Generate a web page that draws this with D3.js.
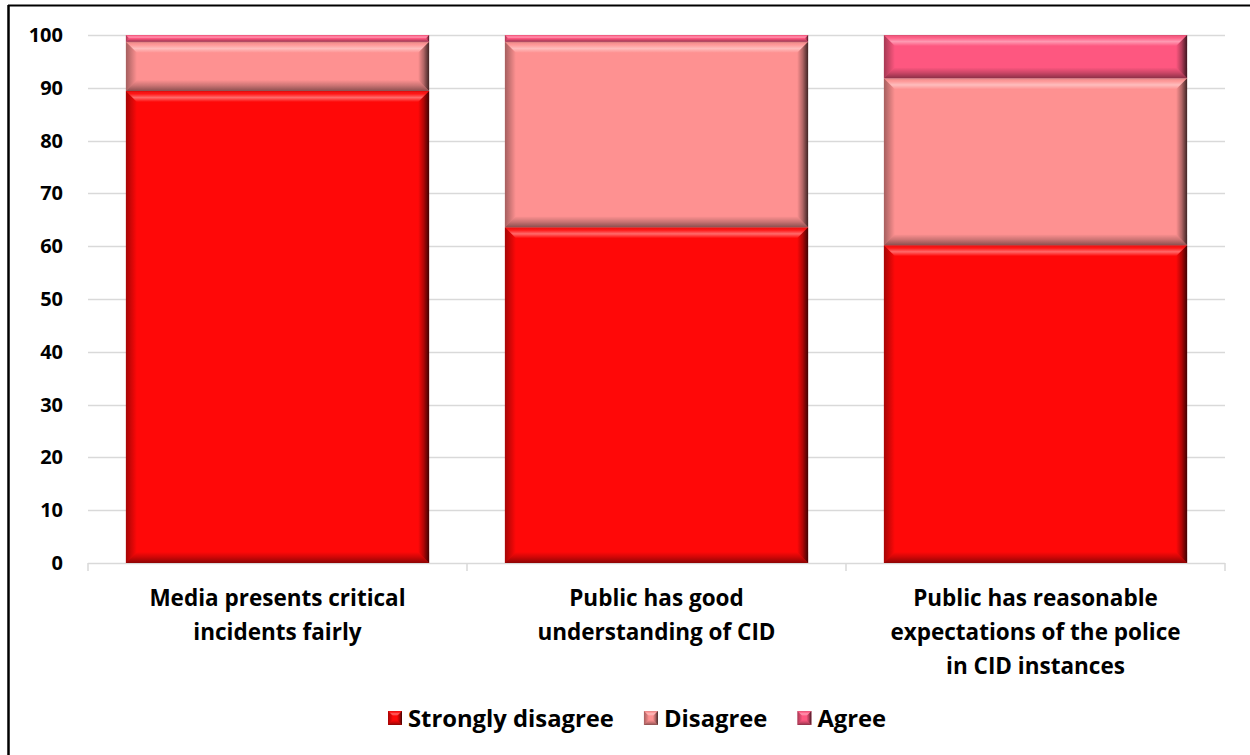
<!DOCTYPE html>
<html>
<head>
<meta charset="utf-8">
<script src="https://cdn.jsdelivr.net/npm/d3@7"></script>
<style>
  body { margin: 0; background: #fff; }
  svg { display: block; }
  text { font-family: "Open Sans", Lato, sans-serif; font-weight: bold; fill: #000; }
</style>
</head>
<body>
<div id="chart"></div>
<script>
// categories (each label split into lines)
const categories = [
  ['Media presents critical', 'incidents fairly'],
  ['Public has good', 'understanding of CID'],
  ['Public has reasonable', 'expectations of the police', 'in CID instances']
];
const seriesNames = ['Strongly disagree', 'Disagree', 'Agree'];
const seriesColors = ['#ff0808', '#fe9191', '#fe5780'];
const stronglyDisagree = [89.4, 63.6, 60.2];
const disagree = [9.3, 35.1, 31.6];
const agree = [1.3, 1.3, 8.2];
const yTicks = [0, 10, 20, 30, 40, 50, 60, 70, 80, 90, 100];

const W = 1250, H = 755;
const margin = { left: 88, right: 25, top: 35, bottom: 192 };

const svg = d3.select('#chart').append('svg')
  .attr('width', W).attr('height', H);

// chart frame (top and left edges visible)
svg.append('line').attr('x1', 8).attr('x2', W).attr('y1', 5.5).attr('y2', 5.5)
  .attr('stroke', '#000').attr('stroke-width', 2);
svg.append('line').attr('x1', 8.5).attr('x2', 8.5).attr('y1', 5).attr('y2', H)
  .attr('stroke', '#000').attr('stroke-width', 2.5);

const x = d3.scaleBand()
  .domain(d3.range(categories.length))
  .range([margin.left, W - margin.right])
  .paddingInner(0.2).paddingOuter(0.1);

const y = d3.scaleLinear().domain([0, 100]).range([H - margin.bottom, margin.top]);

// gradients for bevel overlays
const defs = svg.append('defs');
function grad(id, x2, y2, stops) {
  const g = defs.append('linearGradient').attr('id', id)
    .attr('x1', 0).attr('y1', 0).attr('x2', x2).attr('y2', y2);
  stops.forEach(s => g.append('stop').attr('offset', s[0])
    .attr('stop-color', s[1]).attr('stop-opacity', s[2]));
}
grad('bvTop', 0, 1, [[0, '#000', 0.15], [0.25, '#fff', 0.05], [0.6, '#fff', 0.4], [1, '#fff', 0.0]]);
grad('bvBottom', 0, 1, [[0, '#000', 0.0], [0.5, '#000', 0.2], [1, '#000', 0.45]]);
grad('bvRight', 1, 0, [[0, '#000', 0.0], [0.5, '#000', 0.3], [1, '#000', 0.75]]);
grad('bvLeft', 1, 0, [[0, '#000', 0.35], [1, '#000', 0.0]]);

// gridlines
svg.append('g').selectAll('line').data(yTicks.slice(1)).join('line')
  .attr('x1', margin.left).attr('x2', W - margin.right)
  .attr('y1', d => Math.round(y(d)) + 0.5).attr('y2', d => Math.round(y(d)) + 0.5)
  .attr('stroke', '#d9d9d9').attr('stroke-width', 1.5);

// x axis line and ticks
const xAxis = svg.append('g');
xAxis.append('line')
  .attr('x1', margin.left).attr('x2', W - margin.right)
  .attr('y1', y(0) + 0.5).attr('y2', y(0) + 0.5)
  .attr('stroke', '#d9d9d9').attr('stroke-width', 1.5);
const bounds = d3.range(categories.length + 1).map(i =>
  margin.left + i * (W - margin.left - margin.right) / categories.length);
xAxis.selectAll('line.tk').data(bounds).join('line').attr('class', 'tk')
  .attr('x1', d => d).attr('x2', d => d)
  .attr('y1', y(0)).attr('y2', y(0) + 8)
  .attr('stroke', '#d9d9d9').attr('stroke-width', 1.5);

// y tick labels
svg.append('g').selectAll('text').data(yTicks).join('text')
  .attr('x', 63).attr('y', d => y(d))
  .attr('dy', '0.35em').attr('text-anchor', 'end')
  .style('font-size', '20px')
  .text(d => d);

// stacked data
const rows = categories.map((c, i) => ({ i, sd: stronglyDisagree[i], d: disagree[i], a: agree[i] }));
const stack = d3.stack().keys(['sd', 'd', 'a'])(rows);

function bevelBar(g, x0, y0, w, h, color, bmax) {
  g.append('rect').attr('x', x0).attr('y', y0).attr('width', w).attr('height', h).attr('fill', color);
  const b = Math.min(bmax || 11, h / 2);
  const x1 = x0 + w, y1 = y0 + h;
  const poly = (pts, fill) => g.append('polygon')
    .attr('points', pts.map(p => p.join(',')).join(' ')).attr('fill', fill);
  poly([[x0, y0], [x1, y0], [x1 - b, y0 + b], [x0 + b, y0 + b]], 'url(#bvTop)');
  poly([[x0 + b, y1 - b], [x1 - b, y1 - b], [x1, y1], [x0, y1]], 'url(#bvBottom)');
  poly([[x1 - b, y0 + b], [x1, y0], [x1, y1], [x1 - b, y1 - b]], 'url(#bvRight)');
  poly([[x0, y0], [x0 + b, y0 + b], [x0 + b, y1 - b], [x0, y1]], 'url(#bvLeft)');
}

const barsG = svg.append('g');
stack.forEach((layer, si) => {
  layer.forEach((seg, ci) => {
    const x0 = x(ci), w = x.bandwidth();
    const yTop = y(seg[1]), yBot = y(seg[0]);
    bevelBar(barsG.append('g'), x0, yTop, w, yBot - yTop, seriesColors[si]);
  });
});

// category labels
const catG = svg.append('g');
categories.forEach((lines, i) => {
  const t = catG.append('text')
    .attr('x', x(i) + x.bandwidth() / 2).attr('y', 606)
    .attr('text-anchor', 'middle').style('font-size', '22.5px');
  lines.forEach((l, k) => t.append('tspan')
    .attr('x', x(i) + x.bandwidth() / 2).attr('dy', k === 0 ? 0 : 34).text(l));
});

// legend, laid out left to right from measured text widths
const legend = svg.append('g');
let lx = 388;
seriesNames.forEach((n, i) => {
  const g = legend.append('g').attr('transform', `translate(${lx},711)`);
  bevelBar(g, 0, 0, 14, 14, seriesColors[i], 5);
  const t = g.append('text').attr('x', 20).attr('y', 7).attr('dy', '0.36em')
    .style('font-size', '23.8px').text(n);
  lx += 20 + t.node().getComputedTextLength() + 30;
});
</script>
</body>
</html>
